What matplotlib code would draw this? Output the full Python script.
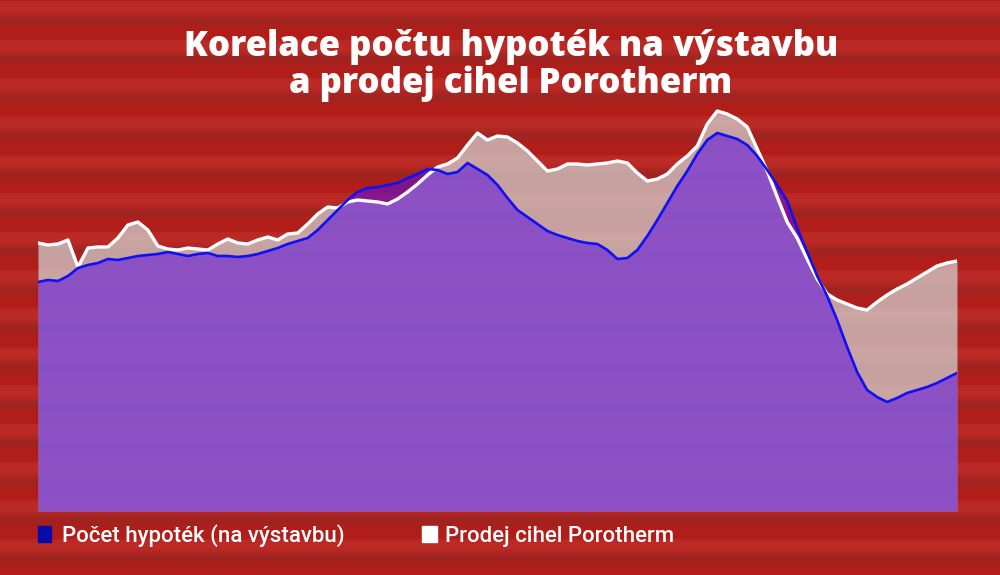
import matplotlib.pyplot as plt
import numpy as np

# Two series (relative height above the baseline)
hypoteky = [229, 231, 230, 235, 243, 246, 248, 252, 251, 253, 255, 256, 257, 259, 257, 255,
            257, 258, 255, 255, 254, 255, 257, 260, 263, 267, 270, 273, 281, 291, 301, 311,
            319, 323, 324, 326, 328, 333, 337, 342, 341, 337, 339, 348, 342, 336, 326, 313,
            301, 294, 287, 280, 276, 273, 270, 268, 267, 261, 252, 253, 261, 275, 291, 308,
            325, 340, 357, 371, 378, 375, 372, 366, 355, 341, 326, 310, 283, 259, 235, 215,
            191, 164, 139, 121, 114, 109, 113, 118, 121, 124, 128, 133, 138]
porotherm = [268, 266, 267, 271, 244, 263, 264, 264, 273, 286, 289, 281, 265, 262, 261, 263,
             262, 261, 267, 272, 268, 267, 271, 274, 271, 277, 278, 287, 297, 304, 303, 309,
             311, 310, 309, 307, 312, 319, 327, 336, 344, 347, 353, 366, 378, 371, 375, 374,
             368, 360, 350, 340, 342, 347, 347, 346, 347, 348, 350, 348, 338, 330, 332, 337,
             347, 355, 365, 387, 400, 397, 392, 384, 362, 340, 314, 289, 273, 252, 232, 217,
             211, 207, 203, 201, 209, 216, 222, 227, 233, 239, 245, 248, 250]

title_lines = ["Korelace počtu hypoték na výstavbu", "a prodej cihel Porotherm"]
labels = ["Počet hypoték (na výstavbu)", "Prodej cihel Porotherm"]

x = np.arange(len(porotherm))

fig = plt.figure(figsize=(10, 5.75), dpi=100)

# soft striped brick-red background
rows = np.arange(575)
period = 38.4
d = ((rows - 20 + period / 2) % period) - period / 2
dark = np.exp(-(d / 5.5) ** 2)
light = np.exp(-((d + 13) / 9.0) ** 2)
base = np.array([178, 30, 26])
img = (base + dark[:, None] * (np.array([158, 35, 31]) - base)
       + light[:, None] * (np.array([189, 43, 39]) - base))
img = np.repeat(img[:, None, :], 10, axis=1) / 255.0
bg = fig.add_axes([0, 0, 1, 1], zorder=0)
bg.imshow(np.clip(img, 0, 1), aspect='auto', extent=[0, 1, 0, 1])
bg.axis('off')

ax = fig.add_axes([0.038, 0.1113, 0.919, 0.7148], zorder=1)
ax.patch.set_alpha(0)
ax.fill_between(x, 0, porotherm, color='#d3d9d8', alpha=0.7, lw=0)
ax.fill_between(x, 0, hypoteky, color='#5a0ee1', alpha=0.55, lw=0)
ax.plot(x, porotherm, color='white', lw=2.4, solid_joinstyle='round')
ax.plot(x, hypoteky, color='#1010f5', lw=1.9, solid_joinstyle='round')
ax.set_xlim(0, len(x) - 1)
ax.set_ylim(0, 411)
ax.axis('off')

# title
for line, ypx in zip(title_lines, [56, 93]):
    fig.text(0.511, 1 - ypx / 575, line, ha='center', va='baseline', color='white',
             fontsize=25, fontweight=800, family='Open Sans')

# legend
fig.patches.append(plt.Rectangle((38 / 1000, 1 - 542 / 575), 13 / 1000, 16 / 575,
                                 transform=fig.transFigure, color='#0a0aa8'))
fig.text(62 / 1000, 1 - 542 / 575, labels[0], color='white', fontsize=16,
         fontweight='medium', family='Roboto', va='baseline')
fig.patches.append(plt.Rectangle((422 / 1000, 1 - 542 / 575), 15 / 1000, 16 / 575,
                                 transform=fig.transFigure, color='white'))
fig.text(445 / 1000, 1 - 542 / 575, labels[1], color='white', fontsize=16,
         fontweight='medium', family='Roboto', va='baseline')

fig.savefig('out.png', dpi=100)
